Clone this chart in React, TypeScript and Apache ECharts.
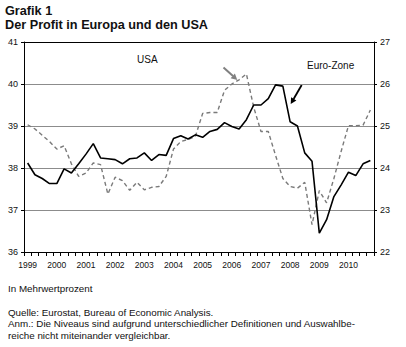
import React, { useEffect, useRef } from "react";
import * as echarts from "echarts";

const years = [1999, 2000, 2001, 2002, 2003, 2004, 2005, 2006, 2007, 2008, 2009, 2010];
const quarterNames = ["Q1", "Q2", "Q3", "Q4"];
const categories = years.flatMap((y) => quarterNames.map((q) => `${y} ${q}`));

// Euro-Zone (solid, left axis)
const euroZone = [
  38.12, 37.84, 37.75, 37.63, 37.63, 37.98, 37.88, 38.1,
  38.33, 38.58, 38.24, 38.22, 38.2, 38.1, 38.22, 38.24,
  38.36, 38.18, 38.32, 38.3, 38.7, 38.77, 38.69, 38.79,
  38.73, 38.87, 38.92, 39.08, 38.99, 38.93, 39.15, 39.5,
  39.5, 39.65, 39.98, 39.95, 39.1, 39.0, 38.36, 38.16,
  36.45, 36.77, 37.32, 37.6, 37.9, 37.82, 38.1, 38.18,
];

// USA (dashed, right axis)
const usa = [
  25.03, 24.93, 24.78, 24.63, 24.45, 24.53, 24.1, 23.8,
  23.88, 24.12, 24.08, 23.38, 23.78, 23.7, 23.47, 23.66,
  23.48, 23.54, 23.56, 23.8, 24.45, 24.63, 24.68, 24.75,
  25.3, 25.32, 25.32, 25.85, 26.0, 26.1, 26.24, 25.45,
  24.87, 24.87, 24.3, 23.75, 23.56, 23.52, 23.66, 22.65,
  23.46, 23.17, 23.75, 24.4, 25.01, 25.01, 25.02, 25.38,
];

const FONT = "Liberation Sans, Arial, Helvetica, sans-serif";

export default function App() {
  const ref = useRef<HTMLDivElement>(null);

  useEffect(() => {
    if (!ref.current) return;
    const chart = echarts.init(ref.current, null, { renderer: "svg" });
    const txt = (text: string, x: number, y: number, size: number, bold = false) => ({
      type: "text",
      x,
      y,
      style: {
        text,
        fill: "#111",
        font: `${bold ? "bold " : ""}${size}px ${FONT}`,
        verticalAlign: "middle",
        align: "left",
      },
    });
    chart.setOption({
      animation: false,
      backgroundColor: "#fff",
      textStyle: { fontFamily: FONT },
      grid: { left: 24, right: 32, top: 42, bottom: 95 },
      xAxis: [
        {
          type: "category",
          data: categories,
          boundaryGap: true,
          axisLine: { lineStyle: { color: "#000", width: 1 } },
          axisTick: { show: true, interval: 0, length: 4, lineStyle: { color: "#000" } },
          axisLabel: {
            interval: 3,
            formatter: (v: string) => v.slice(0, 4),
            fontSize: 8.5,
            color: "#111",
            margin: 8,
          },
          splitLine: { show: false },
        },
        {
          type: "category",
          data: categories,
          position: "top",
          z: 5,
          axisLine: { lineStyle: { color: "#000", width: 1 } },
          axisTick: { show: false },
          axisLabel: { show: false },
          splitLine: { show: false },
        },
      ],
      yAxis: [
        {
          type: "value",
          min: 36,
          max: 41,
          interval: 1,
          position: "left",
          axisLine: { show: true, lineStyle: { color: "#000", width: 1 } },
          axisTick: { show: true, length: 3, lineStyle: { color: "#000" } },
          axisLabel: { fontSize: 9, color: "#111", margin: 6 },
          splitLine: { show: true, lineStyle: { color: "#8c8c8c", width: 1 } },
        },
        {
          type: "value",
          min: 22,
          max: 27,
          interval: 1,
          position: "right",
          axisLine: { show: true, lineStyle: { color: "#000", width: 1 } },
          axisTick: { show: true, length: 3, lineStyle: { color: "#000" } },
          axisLabel: { fontSize: 9, color: "#111", margin: 6 },
          splitLine: { show: false },
        },
      ],
      series: [
        {
          name: "Euro-Zone",
          type: "line",
          data: euroZone,
          yAxisIndex: 0,
          symbol: "none",
          z: 3,
          lineStyle: { color: "#000", width: 1.6 },
        },
        {
          name: "USA",
          type: "line",
          data: usa,
          yAxisIndex: 1,
          symbol: "none",
          z: 2,
          lineStyle: { color: "#7a7a7a", width: 1.4, type: [4, 3] },
        },
      ],
      graphic: [
        txt("Grafik 1", 5, 11, 12.7, true),
        txt("Der Profit in Europa und den USA", 5, 25, 12.7, true),
        txt("USA", 137, 59, 10),
        txt("Euro-Zone", 307, 65, 10),
        txt("In Mehrwertprozent", 8, 288.5, 9.8),
        txt("Quelle: Eurostat, Bureau of Economic Analysis.", 8, 312, 9.8),
        txt("Anm.: Die Niveaus sind aufgrund unterschiedlicher Definitionen und Auswahlbe-", 8, 323.5, 9.8),
        txt("reiche nicht miteinander vergleichbar.", 8, 335, 9.8),
        {
          type: "line",
          shape: { x1: 223.5, y1: 67.5, x2: 233, y2: 76 },
          style: { stroke: "#808080", lineWidth: 2 },
        },
        {
          type: "polygon",
          shape: { points: [[237.3, 80], [230.6, 78.3], [234.9, 73.6]] },
          style: { fill: "#808080" },
        },
        {
          type: "line",
          shape: { x1: 301.7, y1: 85, x2: 293.6, y2: 99 },
          style: { stroke: "#000", lineWidth: 1.8 },
        },
        {
          type: "polygon",
          shape: { points: [[290.7, 104], [296.4, 100.4], [291.1, 97.3]] },
          style: { fill: "#000" },
        },
      ],
    });
    return () => chart.dispose();
  }, []);

  return (
    <div
      ref={ref}
      style={{ position: "fixed", left: 0, top: 0, width: 406, height: 347, background: "#fff" }}
    />
  );
}
